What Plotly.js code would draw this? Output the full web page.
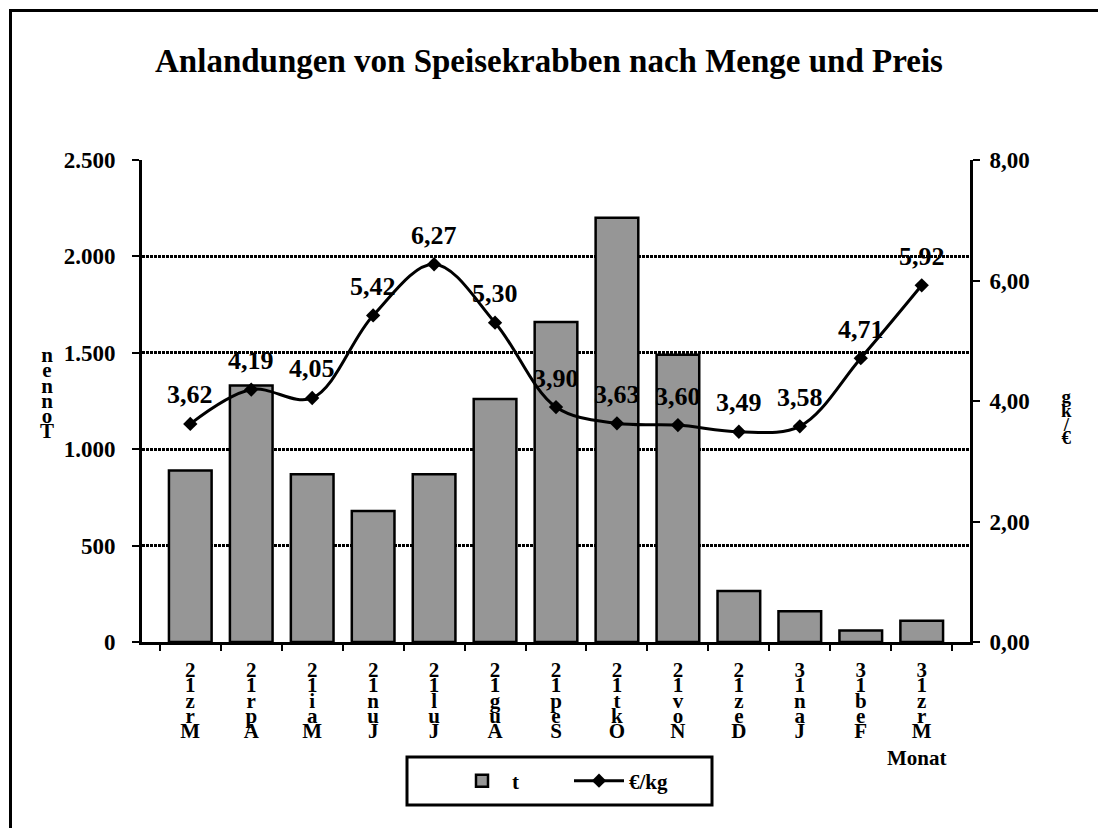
<!DOCTYPE html>
<html>
<head>
<meta charset="utf-8">
<script src="https://cdn.plot.ly/plotly-3.0.1.min.js"></script>
<style>
  body { margin: 0; background: #ffffff; }
  #chart { width: 1098px; height: 828px; position: relative; }
  #frame {
    position: absolute; left: 9px; top: 9px; width: 1100px; height: 830px;
    border-left: 3px solid #000; border-top: 3px solid #000;
    pointer-events: none; z-index: 5;
  }
</style>
</head>
<body>
<div id="frame"></div>
<div id="chart"></div>
<script>
const months = ["Mrz", "Apr", "Mai", "Jun", "Jul", "Aug", "Sep", "Okt", "Nov", "Dez", "Jan", "Feb", "Mrz"];
const years = ["12", "12", "12", "12", "12", "12", "12", "12", "12", "12", "13", "13", "13"];
const tonnes = [890, 1330, 870, 680, 870, 1260, 1660, 2200, 1490, 265, 160, 60, 110];
const pricePerKg = [3.62, 4.19, 4.05, 5.42, 6.27, 5.30, 3.90, 3.63, 3.60, 3.49, 3.58, 4.71, 5.92];

const categories = months.map((m, i) => `${m} ${years[i]}`);
// vertical labels are stacked bottom-to-top, like the original export
const stack = (s) => s.replace(/ /g, "").split("").reverse().join("<br>");
const tickLabels = months.map((m, i) => stack(m + years[i]));

const FONT = "Liberation Serif, Times New Roman, serif";
const bold = (size) => ({ family: FONT, size, color: "#000", weight: "bold" });

const priceLabels = pricePerKg.map((v, i) => ({
  x: categories[i],
  y: v,
  xref: "x",
  yref: "y2",
  text: v.toFixed(2).replace(".", ","),
  showarrow: false,
  yshift: 29,
  font: bold(26),
}));

const layout = {
  width: 1098,
  height: 828,
  paper_bgcolor: "rgba(0,0,0,0)",
  plot_bgcolor: "rgba(0,0,0,0)",
  separators: ",.",
  margin: { l: 142, r: 128, t: 160, b: 186 },
  title: {
    text: "Anlandungen von Speisekrabben nach Menge und Preis",
    font: bold(33),
    x: 0.5,
    xanchor: "center",
    y: 1 - 60 / 828,
    yanchor: "middle",
  },
  bargap: 0.3,
  showlegend: true,
  legend: {
    orientation: "h",
    x: (452 - 142) / 828,
    xanchor: "left",
    y: (642 - 781) / 482,
    yanchor: "middle",
    borderwidth: 0,
    bgcolor: "rgba(0,0,0,0)",
    font: bold(21),
    itemwidth: 50,
    entrywidth: 52,
  },
  shapes: [
    {
      type: "rect",
      xref: "paper",
      yref: "paper",
      x0: (407 - 142) / 828,
      x1: (712 - 142) / 828,
      y0: (642 - 757) / 482,
      y1: (642 - 805) / 482,
      line: { color: "#000", width: 3 },
      fillcolor: "#ffffff",
      layer: "below",
    },
  ],
  xaxis: {
    type: "category",
    tickmode: "array",
    tickvals: categories,
    ticktext: tickLabels,
    tickson: "boundaries",
    ticks: "outside",
    ticklen: 6,
    tickwidth: 2,
    tickcolor: "#000",
    tickfont: bold(21),
    ticklabelstandoff: 7,
    showline: true,
    linewidth: 3,
    linecolor: "#000",
    showgrid: false,
    zeroline: false,
  },
  yaxis: {
    range: [0, 2500],
    dtick: 500,
    tickformat: ",.0f",
    ticks: "outside",
    ticklen: 7,
    tickwidth: 2,
    tickcolor: "#000",
    tickfont: bold(23),
    ticklabelstandoff: 12,
    showline: true,
    linewidth: 3,
    linecolor: "#000",
    showgrid: true,
    gridcolor: "#000",
    gridwidth: 3,
    griddash: "3px,1px",
    zeroline: false,
  },
  yaxis2: {
    overlaying: "y",
    side: "right",
    range: [0, 8],
    dtick: 2,
    tickformat: ".2f",
    ticks: "outside",
    ticklen: 7,
    tickwidth: 2,
    tickcolor: "#000",
    tickfont: bold(23),
    ticklabelstandoff: 5,
    showline: true,
    linewidth: 3,
    linecolor: "#000",
    showgrid: false,
    zeroline: false,
  },
  annotations: [
    ...priceLabels,
    {
      text: stack("Tonnen"),
      xref: "paper", yref: "paper",
      x: -0.115, y: 0.625,
      xanchor: "center", yanchor: "top",
      showarrow: false,
      font: bold(21),
    },
    {
      text: stack("€/kg"),
      xref: "paper", yref: "paper",
      x: 1.117, y: 0.535,
      xanchor: "center", yanchor: "top",
      showarrow: false,
      font: bold(19),
    },
    {
      text: "Monat",
      xref: "paper", yref: "paper",
      x: 0.936, y: -0.241,
      xanchor: "center", yanchor: "middle",
      showarrow: false,
      font: bold(21),
    },
  ],
};

const traces = [
  {
    type: "bar",
    name: "t",
    x: categories,
    y: tonnes,
    marker: { color: "#969696", line: { color: "#000", width: 2.5 } },
    hoverinfo: "x+y",
  },
  {
    type: "scatter",
    mode: "lines+markers",
    name: "€/kg",
    x: categories,
    y: pricePerKg,
    yaxis: "y2",
    line: { color: "#000", width: 3, shape: "spline", smoothing: 1 },
    marker: { symbol: "diamond", size: 11, color: "#000" },
  },
];

// squeeze line spacing of stacked labels so characters overlap like the source
function squeeze(gd, selector, factor) {
  gd.querySelectorAll(selector).forEach((textEl) => {
    const lines = textEl.querySelectorAll("tspan.line");
    if (lines.length < 2) {
      return;
    }
    lines.forEach((ln) => {
      const dy = ln.getAttribute("dy");
      if (dy && dy.endsWith("em")) {
        ln.setAttribute("dy", parseFloat(dy) * factor + "em");
      }
    });
  });
}

const gd = document.getElementById("chart");
Plotly.newPlot(gd, traces, layout, { displayModeBar: false, staticPlot: true }).then(() => {
  squeeze(gd, ".xtick text", 0.56);
  squeeze(gd, ".annotation-text", 0.56);
});
</script>
</body>
</html>
